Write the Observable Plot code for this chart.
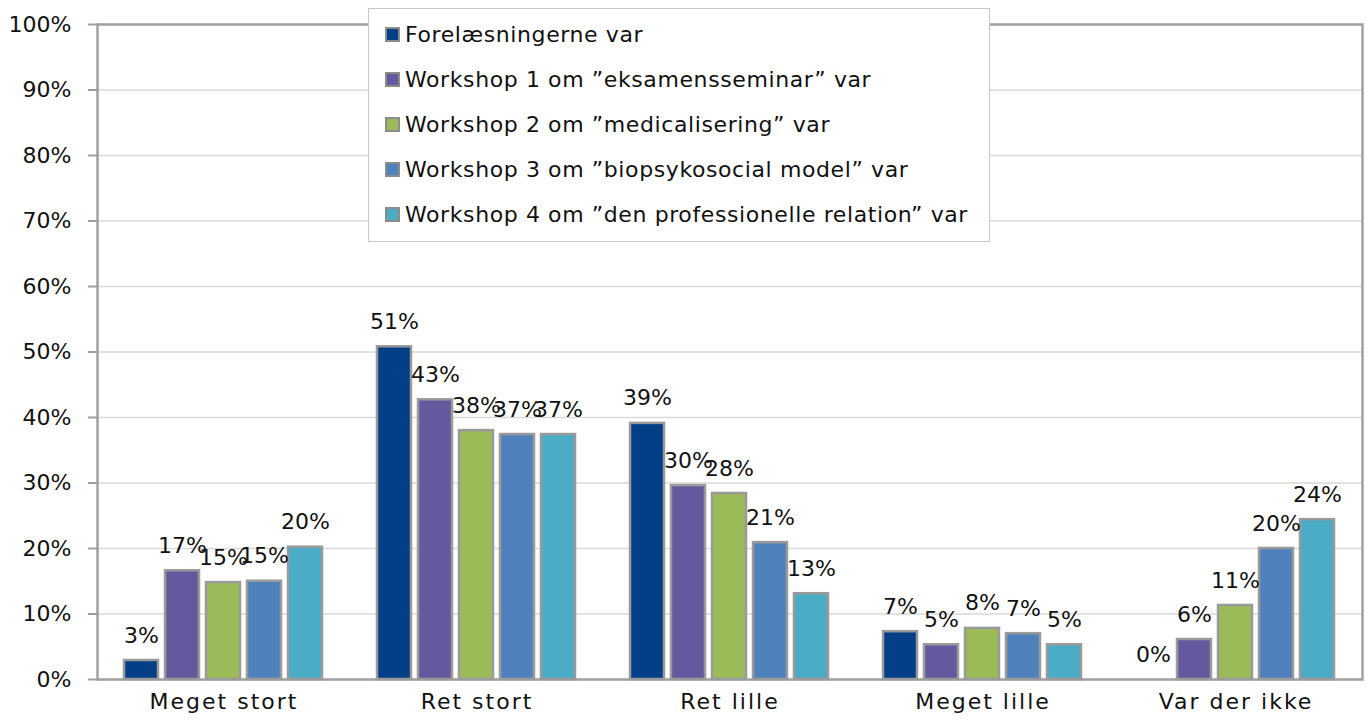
<!DOCTYPE html>
<html><head><meta charset="utf-8">
<script src="https://cdn.jsdelivr.net/npm/d3@7"></script>
<script src="https://cdn.jsdelivr.net/npm/@observablehq/plot@0.6"></script>
<style>
body{margin:0;background:#fff;font-family:"DejaVu Sans",sans-serif;}
#wrap{position:relative;width:1371px;height:724px;}
#legend{position:absolute;left:368px;top:8px;width:622px;height:234px;background:#fff;border:1px solid #c8c8c8;box-sizing:border-box;padding-top:3px;}
.li{display:flex;align-items:center;height:45px;font-size:22px;letter-spacing:0.6px;color:#111;white-space:nowrap;}
.sw{width:11px;height:11px;border:2px solid #8c8c8c;margin-left:16px;margin-right:5px;}
g[aria-label="fx-axis tick label"] text{letter-spacing:2px;}
</style></head><body>
<div id="wrap"></div>
<script>
const categories = ["Meget stort", "Ret stort", "Ret lille", "Meget lille", "Var der ikke"];
const seriesNames = [
  "Forelæsningerne var",
  "Workshop 1 om \u201deksamensseminar\u201d var",
  "Workshop 2 om \u201dmedicalisering\u201d var",
  "Workshop 3 om \u201dbiopsykosocial model\u201d var",
  "Workshop 4 om \u201dden professionelle relation\u201d var"
];
const forelaesninger = [2.9, 50.8, 39.1, 7.3, 0];
const workshop1 = [16.6, 42.7, 29.6, 5.3, 6.1];
const workshop2 = [14.8, 38.0, 28.4, 7.8, 11.3];
const workshop3 = [15.0, 37.4, 20.9, 7.0, 20.0];
const workshop4 = [20.2, 37.4, 13.1, 5.3, 24.4];
const colors = ["#023f86", "#66589f", "#9bbb59", "#4f81bd", "#4bacc6"];
const yTicks = [0,10,20,30,40,50,60,70,80,90,100];

const seriesValues = [forelaesninger, workshop1, workshop2, workshop3, workshop4];
const data = [];
categories.forEach((c, i) => seriesNames.forEach((s, j) => data.push({cat: c, series: s, value: seriesValues[j][i]})));

const font = "DejaVu Sans, sans-serif";
const chart = Plot.plot({
  width: 1371, height: 724,
  marginLeft: 95, marginRight: 7, marginTop: 24, marginBottom: 45,
  style: {fontFamily: font, fontSize: "22px", color: "#111", background: "transparent"},
  fx: {domain: categories, padding: 0, label: null, axis: null},
  x: {domain: seriesNames, paddingInner: 0.16, paddingOuter: 0.6, axis: null},
  y: {domain: [0, 100], axis: null},
  color: {domain: seriesNames, range: colors},
  marks: [
    Plot.gridY(yTicks, {stroke: "#d9d9d9", strokeOpacity: 1, strokeWidth: 1.5}),
    Plot.ruleY([0, 100], {stroke: "#a0a0a0", strokeWidth: 2.5}),
    Plot.frame({anchor: "left", facetAnchor: "left", stroke: "#a0a0a0", strokeWidth: 2.5}),
    Plot.frame({anchor: "right", facetAnchor: "right", stroke: "#a0a0a0", strokeWidth: 2.5}),
    Plot.axisY(yTicks, {anchor: "left", tickSize: 9, tickPadding: 17, stroke: "#a0a0a0", strokeWidth: 2, tickFormat: d => d + "%", fill: "#111", fontSize: 22, label: null}),
    Plot.axisFx({anchor: "bottom", tickSize: 0, tickPadding: 14, fontSize: 22, fill: "#111", label: null}),
    Plot.barY(data, {fx: "cat", x: "series", y: "value", fill: "series", stroke: "#9a9a9a", strokeWidth: 2.5}),
    Plot.text(data, {fx: "cat", x: "series", y: "value", text: d => Math.round(d.value) + "%", dy: -25, fontSize: 22, fill: "#111"})
  ]
});
const wrap = document.getElementById("wrap");
wrap.appendChild(chart);
const lg = document.createElement("div");
lg.id = "legend";
seriesNames.forEach((s, j) => {
  const r = document.createElement("div"); r.className = "li";
  const sw = document.createElement("span"); sw.className = "sw"; sw.style.background = colors[j];
  const t = document.createElement("span"); t.textContent = s;
  r.appendChild(sw); r.appendChild(t); lg.appendChild(r);
});
wrap.appendChild(lg);
</script></body></html>
